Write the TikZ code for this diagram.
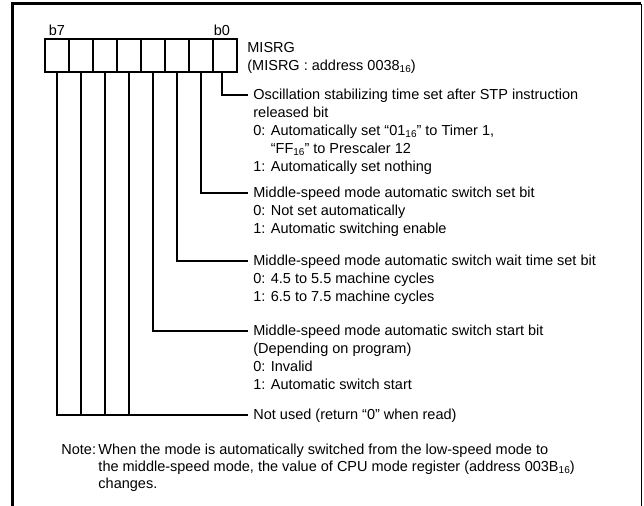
\documentclass[tikz,border=0pt]{standalone}
\usepackage{fontspec}
\setmainfont{Liberation Sans}
\usetikzlibrary{positioning,calc}
\newcommand{\hexs}[1]{\raisebox{-0.25ex}{\fontsize{5}{5}\selectfont #1}}

\begin{document}
\begin{tikzpicture}[x=0.5pt, y=-0.5pt,
  bitcell/.style={rectangle, draw=black, line width=0.6pt, minimum width=12pt,
    minimum height=16.5pt, inner sep=0pt, outer sep=0pt},
  desc/.style={anchor=base west, inner sep=0pt},
  lead/.style={line width=0.6pt},
  every node/.style={font=\fontsize{7.25}{9}\selectfont}
]
\useasboundingbox (0,0) rectangle (644,506);

% frame
\draw[line width=1.5pt] (12,506) -- (12,4) -- (641,4);
\draw[line width=0.5pt] (641,4) -- (641,506);

% register MISRG
\node[bitcell] (c7) at (57,55.5) {};
\node[bitcell, right=0pt of c7] (c6) {};
\node[bitcell, right=0pt of c6] (c5) {};
\node[bitcell, right=0pt of c5] (c4) {};
\node[bitcell, right=0pt of c4] (c3) {};
\node[bitcell, right=0pt of c3] (c2) {};
\node[bitcell, right=0pt of c2] (c1) {};
\node[bitcell, right=0pt of c1] (c0) {};

\node[anchor=base, inner sep=0pt] (b7) at ($(c7.north)+(0,-3)$) {b7};
\node[anchor=base, inner sep=0pt] (b0) at ($(c0.north)+(-3,-3)$) {b0};

\node[desc] (reg) at (247,53) {\begin{tabular}[t]{@{}l@{}}
  MISRG\\(MISRG : address 0038\hexs{16})\end{tabular}};

% bit descriptions
\node[desc] (t0) at (253,100) {\begin{tabular}[t]{@{}l@{}}
  Oscillation stabilizing time set after STP instruction\\
  released bit\\
  0: Automatically set “01\hexs{16}” to Timer 1,\\
  \phantom{0: }“FF\hexs{16}” to Prescaler 12\\
  1: Automatically set nothing
\end{tabular}};
\node[desc] (t1) at (253,198) {\begin{tabular}[t]{@{}l@{}}
  Middle-speed mode automatic switch set bit\\
  0: Not set automatically\\
  1: Automatic switching enable
\end{tabular}};
\node[desc] (t2) at (253,266) {\begin{tabular}[t]{@{}l@{}}
  Middle-speed mode automatic switch wait time set bit\\
  0: 4.5 to 5.5 machine cycles\\
  1: 6.5 to 7.5 machine cycles
\end{tabular}};
\node[desc] (t3) at (253,336) {\begin{tabular}[t]{@{}l@{}}
  Middle-speed mode automatic switch start bit\\
  (Depending on program)\\
  0: Invalid\\
  1: Automatic switch start
\end{tabular}};
\node[desc] (t4) at (253,420) {Not used (return “0” when read)};

% leaders
\draw[lead] ([xshift=-1.5pt]c0.south) |- ($(t0.base west)+(-5,-5)$);
\draw[lead] (c1.south) |- ($(t1.base west)+(-5,-5)$);
\draw[lead] (c2.south) |- ($(t2.base west)+(-5,-5)$);
\draw[lead] (c3.south) |- ($(t3.base west)+(-5,-5)$);
\coordinate (nu) at ($(t4.base west)+(-5,-5)$);
\draw[lead] (c7.south) |- (nu);
\draw[lead] (c6.south) -- (c6.south |- nu);
\draw[lead] (c5.south) -- (c5.south |- nu);
\draw[lead] (c4.south) -- (c4.south |- nu);

% note
\node[desc, font=\fontsize{7.25}{8.3}\selectfont] (note) at (61,455) {%
  \begin{tabular}[t]{@{}l@{\,}l@{}}
  Note: & When the mode is automatically switched from the low-speed mode to\\
        & the middle-speed mode, the value of CPU mode register (address 003B\hexs{16})\\
        & changes.
  \end{tabular}};

\end{tikzpicture}
\end{document}
